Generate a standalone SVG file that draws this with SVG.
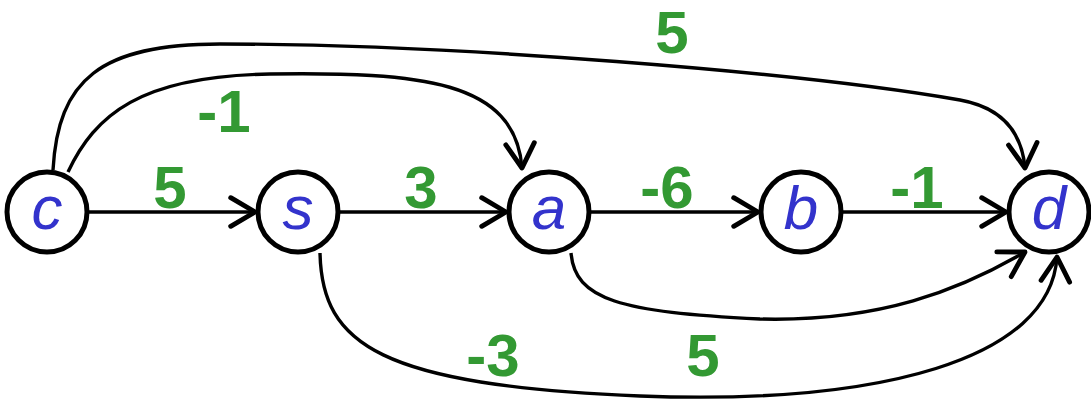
<svg xmlns="http://www.w3.org/2000/svg" width="1091" height="404" viewBox="0 0 1091 404">
<style>
.node circle{fill:#fff;stroke:#000;stroke-width:5}
.node text{font-family:"Liberation Sans",Arial,sans-serif;font-style:italic;font-size:62px;fill:#3333cc;text-anchor:middle}
.edge{fill:none;stroke:#000;stroke-width:3.4;marker-end:url(#arr)}
.lbl{font-family:"Liberation Sans",Arial,sans-serif;font-weight:bold;font-size:60px;fill:#339933;text-anchor:middle}
</style>
<defs>
<marker id="arr" markerUnits="userSpaceOnUse" markerWidth="40" markerHeight="40" viewBox="-20 -14 24 28" refX="0" refY="0" orient="auto">
<path d="M-17,-10 L0,0 L-17,10" fill="none" stroke="#000" stroke-width="3.4" stroke-linecap="round" stroke-linejoin="round"/>
</marker>
</defs>
<g id="connectors">
<path class="edge" d="M89,212 L255,212"/>
<path class="edge" d="M340,212 L506,212"/>
<path class="edge" d="M591,212 L758,212"/>
<path class="edge" d="M843,212 L1006,212"/>
<path class="edge" d="M68,172 C95,115 140,76 270,74 C420,72 515,80 522,168"/>
<path class="edge" d="M53,170 C58,80 100,44 220,44 C450,44 800,72 960,100 C1005,108 1022,135 1025,168"/>
<path class="edge" d="M571,253 C575,300 620,312 760,319 C880,322 960,290 1025,252"/>
<path class="edge" d="M320,253 C322,345 380,385 640,396 C880,405 1050,360 1057,257"/>
</g>
<g id="labels">
<text class="lbl" x="170" y="208">5</text>
<text class="lbl" x="421" y="208">3</text>
<text class="lbl" x="667" y="208">-6</text>
<text class="lbl" x="917" y="208">-1</text>
<text class="lbl" x="224" y="132">-1</text>
<text class="lbl" x="672" y="53">5</text>
<text class="lbl" x="493" y="376">-3</text>
<text class="lbl" x="703" y="376">5</text>
</g>
<g id="node-c" class="node"><circle cx="47" cy="212" r="40"/><text x="47" y="229">c</text></g>
<g id="node-s" class="node"><circle cx="298" cy="212" r="40"/><text x="298" y="229">s</text></g>
<g id="node-a" class="node"><circle cx="549" cy="212" r="40"/><text x="549" y="229">a</text></g>
<g id="node-b" class="node"><circle cx="801" cy="212" r="40"/><text x="801" y="229">b</text></g>
<g id="node-d" class="node"><circle cx="1049" cy="212" r="40"/><text x="1049" y="229">d</text></g>
</svg>
